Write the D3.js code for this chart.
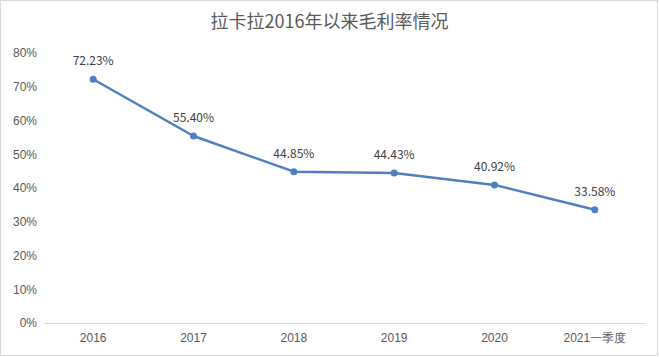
<!DOCTYPE html>
<html><head><meta charset="utf-8">
<script src="https://cdn.jsdelivr.net/npm/d3@7"></script>
<style>body{margin:0;background:#fff;}svg{display:block;font-family:"Microsoft YaHei","Noto Sans CJK SC","DejaVu Sans",sans-serif;}</style>
</head><body>
<script>
const categories = ["2016","2017","2018","2019","2020","2021一季度"];
const values = [72.23, 55.40, 44.85, 44.43, 40.92, 33.58];
const yTicks = [0,10,20,30,40,50,60,70,80];
const title = "拉卡拉2016年以来毛利率情况";

const W = 659, H = 357;
const svg = d3.select("body").append("svg").attr("width", W).attr("height", H);
svg.append("rect").attr("x",0.5).attr("y",0.5).attr("width",W-2).attr("height",H-2)
  .attr("fill","#fff").attr("stroke","#d9d9d9");

const x = d3.scaleBand().domain(categories).range([43, 645]);
const y = d3.scaleLinear().domain([0, 80]).range([323, 53]);

svg.append("text").attr("x", W/2).attr("y", 28).attr("text-anchor","middle")
  .attr("font-size", 18).attr("fill","#595959").text(title);

const yAxis = svg.append("g").attr("transform","translate(37,0)")
  .call(d3.axisLeft(y).tickValues(yTicks).tickFormat(d => d + "%").tickSize(0).tickPadding(0));
yAxis.select(".domain").remove();
yAxis.selectAll("text").attr("font-size",12).attr("fill","#595959").attr("font-family",null);

const xAxis = svg.append("g").attr("transform","translate(0,323)")
  .call(d3.axisBottom(x).tickSize(0).tickPadding(10));
xAxis.select(".domain").attr("stroke","#d9d9d9");
xAxis.selectAll("text").attr("font-size",12).attr("fill","#595959").attr("font-family",null);

const line = d3.line().x((d,i) => x(categories[i]) + x.bandwidth()/2).y(d => y(d));
svg.append("path").datum(values).attr("d", line).attr("fill","none")
  .attr("stroke","#4e7fc1").attr("stroke-width",2.5).attr("stroke-linejoin","round");

svg.selectAll("circle.pt").data(values).enter().append("circle")
  .attr("cx",(d,i) => x(categories[i]) + x.bandwidth()/2).attr("cy", d => y(d))
  .attr("r",3.5).attr("fill","#4e7fc1");

svg.selectAll("text.lbl").data(values).enter().append("text")
  .attr("x",(d,i) => x(categories[i]) + x.bandwidth()/2).attr("y", d => y(d) - 14)
  .attr("text-anchor","middle").attr("font-size",12).attr("fill","#404040")
  .text(d => d.toFixed(2) + "%");
</script>
</body></html>
